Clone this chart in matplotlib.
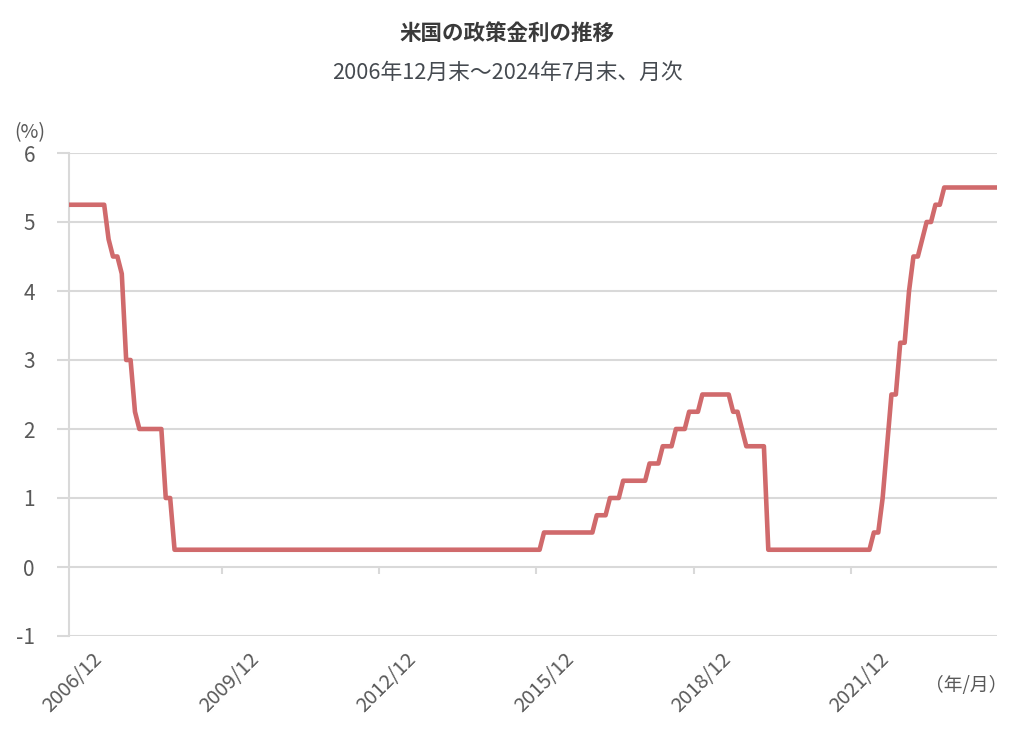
import numpy as np
import matplotlib
matplotlib.use("Agg")
from matplotlib import pyplot as plt

plt.rcParams["font.family"] = ["Noto Sans CJK JP", "DejaVu Sans"]

# Fed policy rate (upper bound), month-end, from 2006/12 to 2024/7
# each rate is held for the given number of months
rates = [5.25, 4.75, 4.5, 4.25, 3.0, 2.25, 2.0, 1.0, 0.25,
         0.5, 0.75, 1.0, 1.25, 1.5, 1.75, 2.0, 2.25, 2.5,
         2.25, 2.0, 1.75, 0.25,
         0.5, 1.0, 1.75, 2.5, 3.25, 4.0, 4.5, 4.75, 5.0, 5.25, 5.5]
months_held = [9, 1, 2, 1, 2, 1, 6, 2, 84,
               12, 3, 3, 6, 3, 3, 3, 3, 7,
               2, 1, 5, 24,
               2, 1, 1, 2, 2, 1, 2, 1, 2, 2, 13]
tick_labels = ["2006/12", "2009/12", "2012/12", "2015/12", "2018/12", "2021/12"]
y_ticks = [-1, 0, 1, 2, 3, 4, 5, 6]

monthly = np.repeat(rates, months_held)
x = np.arange(len(monthly))
# the source chart places its labels and tick marks a bit off the 36-month grid
label_pos = [0.7 + i * 35.8 for i in range(len(tick_labels))]
mark_pos = [i * 35.77 - 1.05 for i in range(1, len(tick_labels))]

grid_c = "#d9d9d9"
text_c = "#595959"

fig = plt.figure(figsize=(10.24, 7.32), dpi=100)
ax = fig.add_axes([69 / 1024, 1 - 636 / 732, (997 - 69) / 1024, (636 - 153) / 732])

for yv in y_ticks:
    ax.axhline(yv, color=grid_c, lw=1.5, zorder=1)

ax.plot(x, monthly, color="#d06a6c", lw=3.3, solid_joinstyle="round",
        solid_capstyle="butt", zorder=3)

ax.set_xlim(0, len(monthly) - 1)
ax.set_ylim(-1, 6)
ax.set_yticks(y_ticks)
ax.set_yticklabels([str(v) for v in y_ticks])
ax.tick_params(axis="y", length=8.5, width=1.5, color=grid_c, pad=16,
               labelsize=15, labelcolor=text_c)

ax.set_xticks(label_pos)
ax.set_xticklabels(tick_labels, rotation=45, ha="center")
ax.tick_params(axis="x", length=0, pad=9, labelsize=14.5, labelcolor=text_c)

for side in ["top", "right", "bottom"]:
    ax.spines[side].set_visible(False)
ax.spines["left"].set_color(grid_c)
ax.spines["left"].set_linewidth(1.5)

# small tick marks on the zero line
zero_axis = ax.secondary_xaxis(1 / 7)
zero_axis.set_xticks(mark_pos)
zero_axis.set_xticklabels([])
zero_axis.tick_params(length=5, width=1.5, color=grid_c)
zero_axis.spines["bottom"].set_visible(False)

fig.text(507 / 1024, 1 - 33 / 732, "米国の政策金利の推移", ha="center", va="center",
         fontsize=15.5, fontweight="bold", color="#3a3a3a")
fig.text(507 / 1024, 1 - 73 / 732, "2006年12月末～2024年7月末、月次", ha="center",
         va="center", fontsize=15.7, color="#454a50")
fig.text(30 / 1024, 1 - 133 / 732, "(%)", ha="center", va="center",
         fontsize=14, color=text_c)
fig.text(966 / 1024, 1 - 685 / 732, "（年/月）", ha="center", va="center",
         fontsize=13.5, color=text_c)

fig.savefig("out.png", dpi=100, facecolor="white")
